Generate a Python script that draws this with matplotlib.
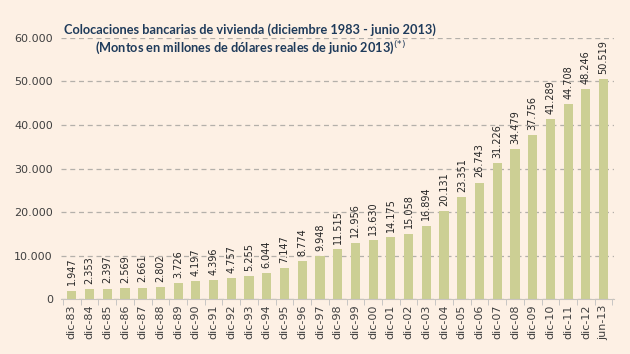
import matplotlib.pyplot as plt
import numpy as np

categories = ['dic-83', 'dic-84', 'dic-85', 'dic-86', 'dic-87', 'dic-88', 'dic-89', 'dic-90',
              'dic-91', 'dic-92', 'dic-93', 'dic-94', 'dic-95', 'dic-96', 'dic-97', 'dic-98',
              'dic-99', 'dic-00', 'dic-01', 'dic-02', 'dic-03', 'dic-04', 'dic-05', 'dic-06',
              'dic-07', 'dic-08', 'dic-09', 'dic-10', 'dic-11', 'dic-12', 'jun-13']
values = [1947, 2353, 2397, 2569, 2661, 2802, 3726, 4197, 4396, 4757, 5255, 6044, 7147, 8774,
          9948, 11515, 12956, 13630, 14175, 15058, 16894, 20131, 23351, 26743, 31226, 34479,
          37756, 41289, 44708, 48246, 50519]
yticks = [0, 10000, 20000, 30000, 40000, 50000, 60000]

def fmt(v):
    return '{:,}'.format(v).replace(',', '.')

bg = '#FDF0E4'
bar_color = '#CCCF94'
txt = '#404040'

fig = plt.figure(figsize=(6.3, 3.54), dpi=100, facecolor=bg)
ax = fig.add_axes([0.097, 0.155, 0.878, 0.738], facecolor=bg)

x = np.arange(len(categories))
ax.bar(x, values, width=0.52, color=bar_color, zorder=3)

for xi, v in zip(x, values):
    ax.text(xi, v + 1200, fmt(v), rotation=90, ha='center', va='bottom',
            fontsize=7, color='#262626', zorder=4)

ax.set_ylim(0, 60000)
ax.set_xlim(-0.6, len(categories) - 0.4)
ax.set_yticks(yticks)
ax.set_yticklabels([fmt(t) for t in yticks], fontsize=8, color=txt)
ax.set_xticks(x)
ax.set_xticklabels(categories, rotation=90, fontsize=8, color=txt)
ax.set_xticks(np.arange(-0.5, len(categories)), minor=True)
ax.tick_params(axis='x', which='major', length=0, pad=4)
ax.tick_params(axis='x', which='minor', length=4, color='#BFBFBF')
ax.tick_params(axis='y', length=0, pad=6)

ax.yaxis.grid(True, linestyle=(0, (4, 3)), color='#B4B0AA', linewidth=0.9, zorder=0)
for s in ['top', 'right', 'left']:
    ax.spines[s].set_visible(False)
ax.spines['bottom'].set_color('#C8C4BE')
ax.spines['bottom'].set_zorder(5)

fig.text(0.397, 0.916, 'Colocaciones bancarias de vivienda (diciembre 1983 - junio 2013)',
         ha='center', va='center', fontsize=9.2, fontweight='bold', color='#1F3B5B',
         family='Lato')
fig.text(0.397, 0.862, '(Montos en millones de dólares reales de junio 2013)$^{(*)}$',
         ha='center', va='center', fontsize=9.2, fontweight='bold', color='#1F3B5B',
         family='Lato')

fig.savefig('out.png', dpi=100, facecolor=bg)
